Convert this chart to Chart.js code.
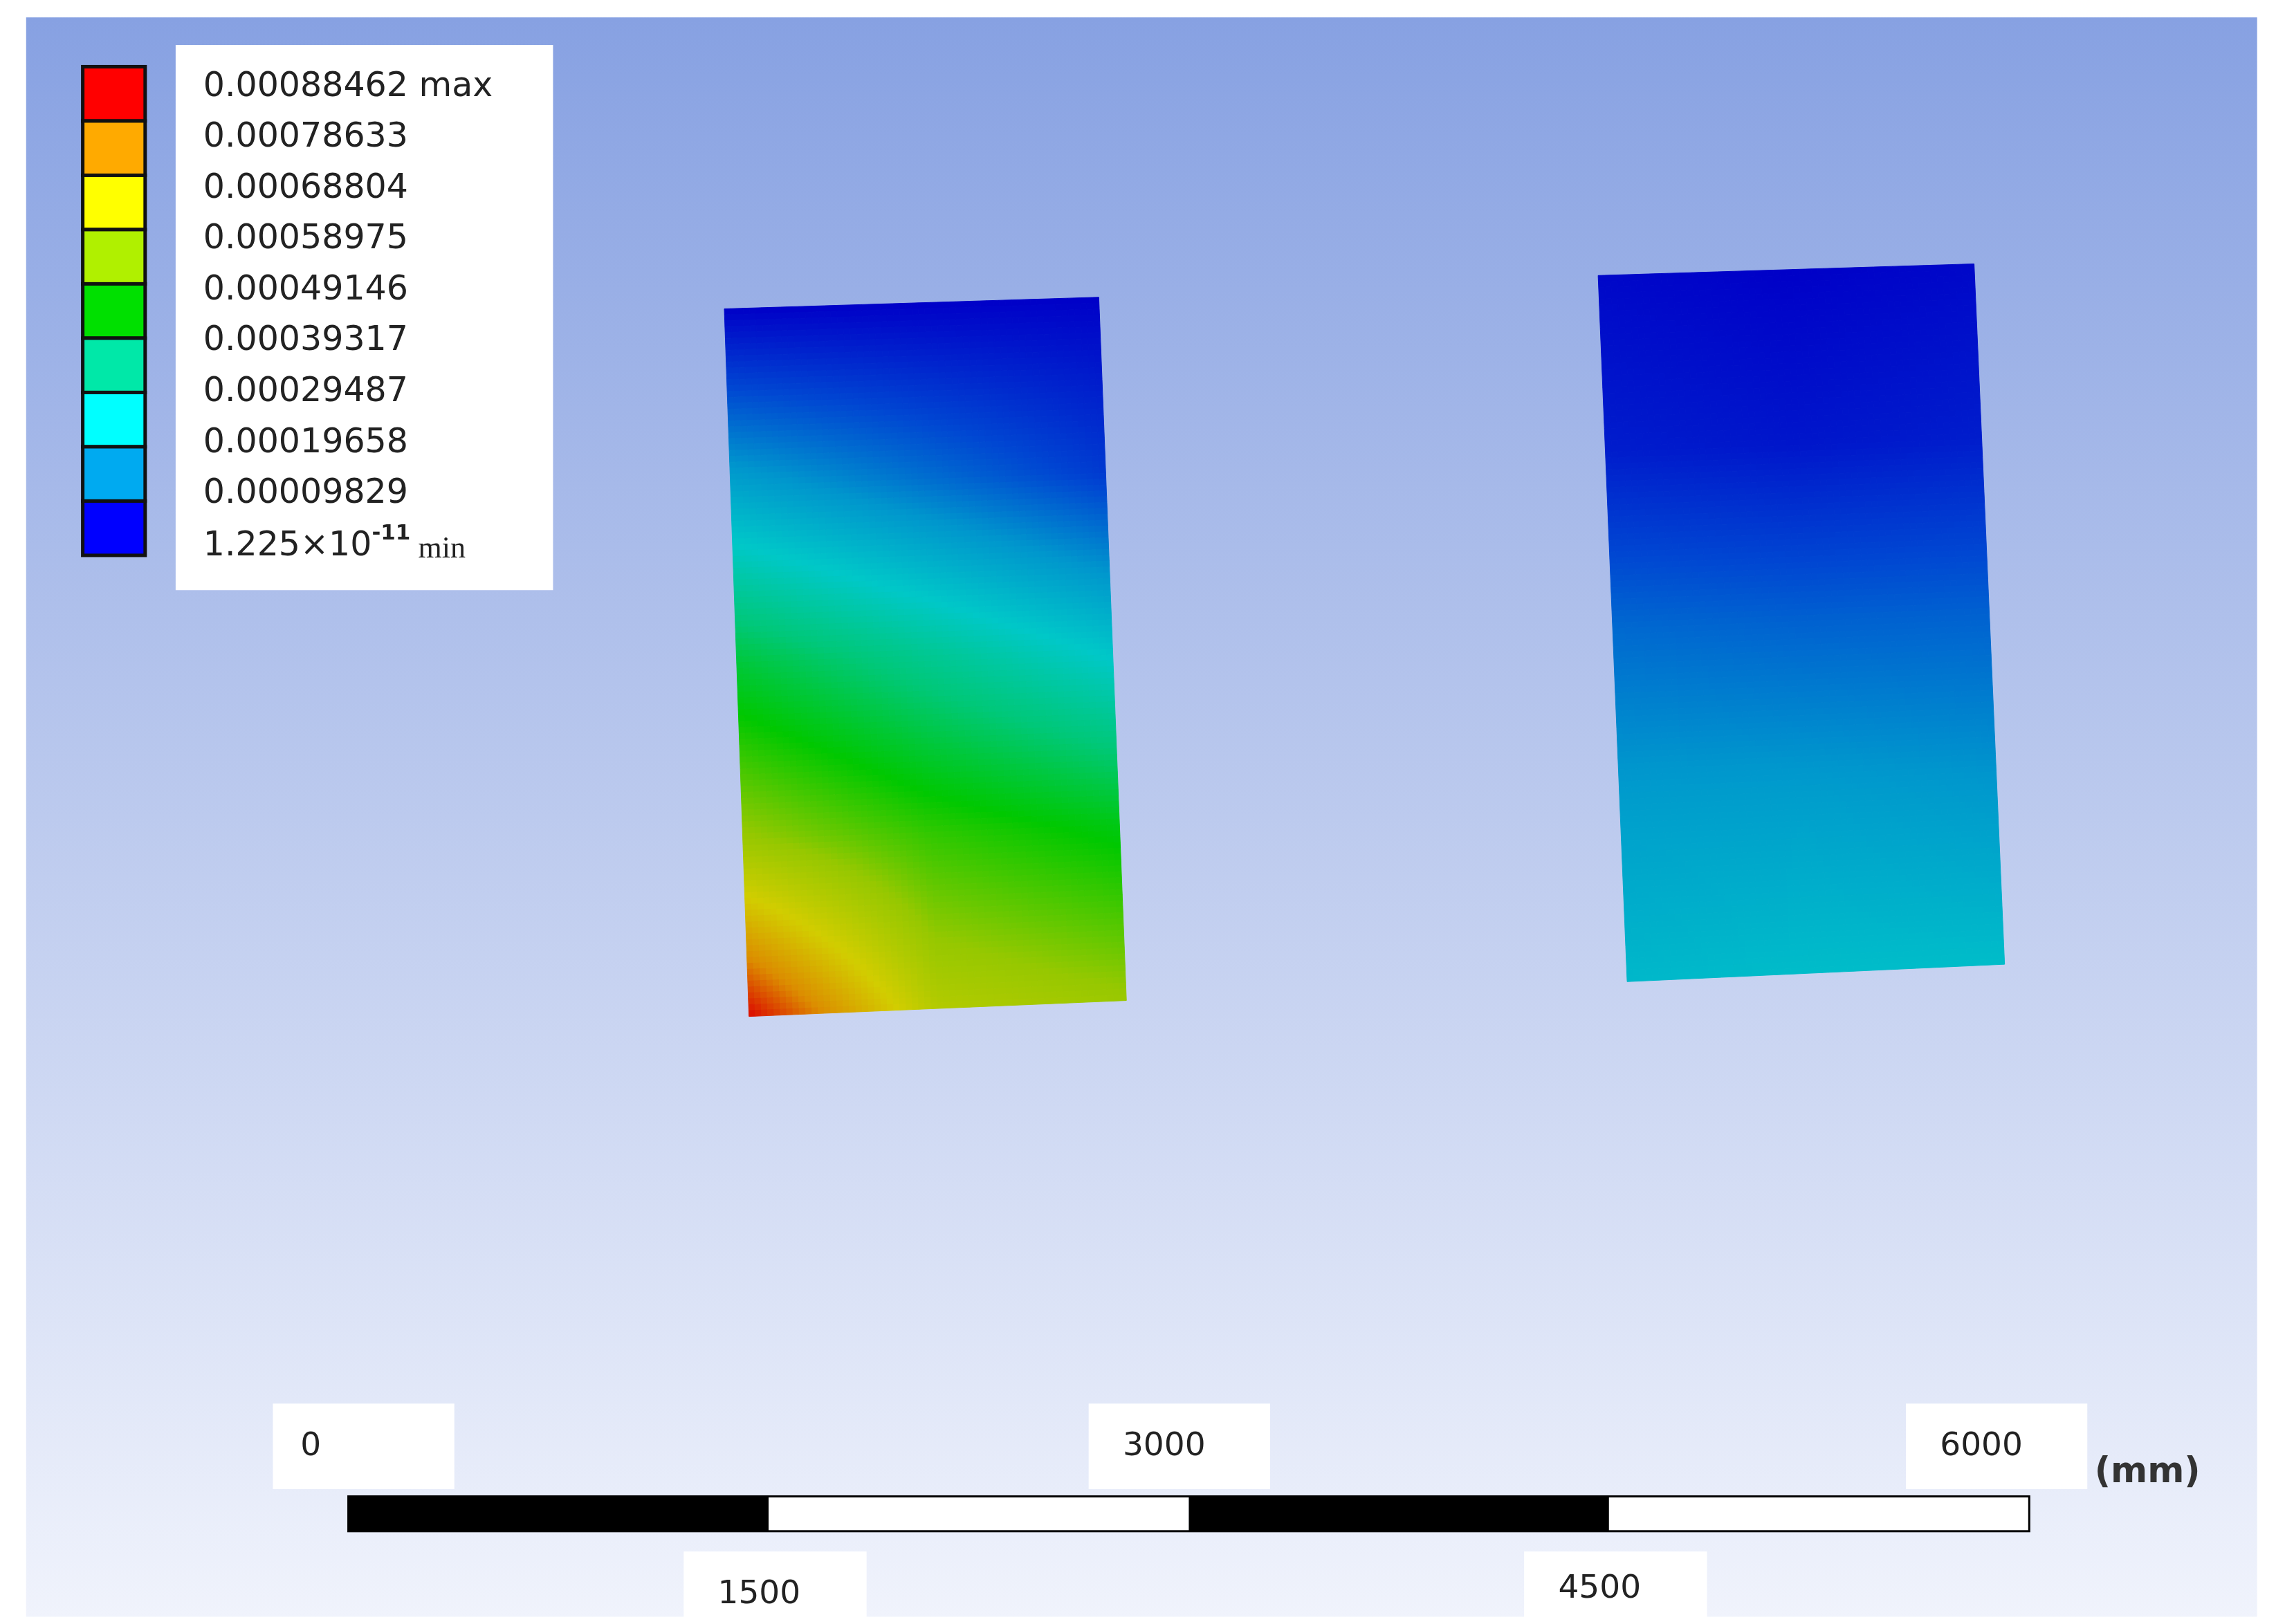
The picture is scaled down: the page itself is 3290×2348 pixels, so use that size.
<!DOCTYPE html>
<html><head><meta charset="utf-8">
<script src="https://cdn.jsdelivr.net/npm/chart.js@4"></script>
<style>html,body{margin:0;padding:0;background:#fff}#wrap{width:3290px;height:2348px}</style>
</head><body><div id="wrap"><canvas id="c" width="3290" height="2348"></canvas></div>
<script>
// Legend values (top = max)
const legendLabels = ["0.00088462 max","0.00078633","0.00068804","0.00058975","0.00049146","0.00039317","0.00029487","0.00019658","0.00009829"];
const legendMin = "1.225×10";
const legendColors = ["#ff0000","#ffaa00","#ffff00","#b0f000","#00e000","#00e8a8","#00ffff","#00aaf0","#0000ff"];
const vMax = 0.00088462;
// Scale-bar tick labels (mm)
const scaleTicksTop = [0, 3000, 6000];
const scaleTicksBottom = [1500, 4500];
// Panel corner coordinates (image units) TL, TR, BR, BL
const panelLeftCorners = [[499,213],[757,205],[776,690],[516,701]];
const panelRightCorners = [[1101,190],[1360,182],[1381,665],[1121,677]];
// Deformation field at nodes (rows top->bottom, cols left->right)
const panelLeftField = [
 [0.00000,0.00000,0.00000],
 [0.00022,0.00015,0.00008],
 [0.00044,0.00036,0.00028],
 [0.00060,0.00052,0.00047],
 [0.00088,0.00064,0.00060]];
const panelRightField = [
 [0.00001,0.00000,0.00001],
 [0.00004,0.00003,0.00004],
 [0.00014,0.00013,0.00013],
 [0.00021,0.00021,0.00020],
 [0.00026,0.00027,0.00027]];

const S = 3290/1568;
const stops = [[0,[0,0,200]],[0.11,[0,70,210]],[0.22,[0,150,205]],[0.33,[0,200,200]],[0.44,[0,200,120]],[0.55,[0,200,0]],[0.67,[150,200,0]],[0.78,[210,205,0]],[0.89,[220,140,0]],[1,[220,0,0]]];
function cmap(v){let t=Math.max(0,Math.min(1,v/vMax));for(let i=1;i<stops.length;i++){if(t<=stops[i][0]){const a=stops[i-1],b=stops[i];const f=(t-a[0])/(b[0]-a[0]);return a[1].map((c,k)=>Math.round(c+(b[1][k]-c)*f));}}return stops[stops.length-1][1];}
function field(F,u,v){const R=F.length-1,C=F[0].length-1;let r=Math.min(R-1,Math.floor(v*R)),c=Math.min(C-1,Math.floor(u*C));const fv=v*R-r,fu=u*C-c;return F[r][c]*(1-fu)*(1-fv)+F[r][c+1]*fu*(1-fv)+F[r+1][c]*(1-fu)*fv+F[r+1][c+1]*fu*fv;}

const plugin={id:'fea',
 beforeDatasetsDraw(ch){
  const ctx=ch.ctx,X=ch.scales.x,Y=ch.scales.y;
  const px=x=>X.getPixelForValue(x),py=y=>Y.getPixelForValue(y);
  ctx.save();ctx.fillStyle='#fff';ctx.fillRect(0,0,ch.width,ch.height);
  const g=ctx.createLinearGradient(0,py(12),0,py(1115));g.addColorStop(0,'#87a1e2');g.addColorStop(0.5,'#bccaee');g.addColorStop(1,'#f0f3fc');
  ctx.fillStyle=g;ctx.fillRect(px(18),py(12),px(1555)-px(18),py(1115)-py(12));
  function drawPanel(P,F){const N=60,M=120;
   const pt=(u,v)=>{const x=(P[0][0]*(1-u)+P[1][0]*u)*(1-v)+(P[3][0]*(1-u)+P[2][0]*u)*v;const y=(P[0][1]*(1-u)+P[1][1]*u)*(1-v)+(P[3][1]*(1-u)+P[2][1]*u)*v;return [px(x),py(y)];};
   for(let i=0;i<N;i++)for(let j=0;j<M;j++){const u0=i/N,u1=(i+1)/N,v0=j/M,v1=(j+1)/M;const c=cmap(field(F,(u0+u1)/2,(v0+v1)/2));
    ctx.fillStyle=`rgb(${c[0]},${c[1]},${c[2]})`;ctx.strokeStyle=ctx.fillStyle;ctx.lineWidth=1;
    ctx.beginPath();let a=pt(u0,v0),b=pt(u1,v0),d=pt(u1,v1),e=pt(u0,v1);ctx.moveTo(...a);ctx.lineTo(...b);ctx.lineTo(...d);ctx.lineTo(...e);ctx.closePath();ctx.fill();ctx.stroke();}}
  drawPanel(panelLeftCorners,panelLeftField);drawPanel(panelRightCorners,panelRightField);
  const lx0=px(57),lx1=px(100),ly0=py(46),ly1=py(383),h=(ly1-ly0)/legendColors.length;
  legendColors.forEach((c,i)=>{ctx.fillStyle=c;ctx.fillRect(lx0,ly0+i*h,lx1-lx0,h);ctx.strokeStyle='#111';ctx.lineWidth=5;ctx.strokeRect(lx0,ly0+i*h,lx1-lx0,h);});
  ctx.fillStyle='#fff';ctx.fillRect(px(121),py(31),px(381)-px(121),py(407)-py(31));
  ctx.fillStyle='#222';ctx.font=`${Math.round(23.2*S)}px "DejaVu Sans"`;ctx.textBaseline='middle';
  legendLabels.forEach((t,i)=>ctx.fillText(t,px(140),py(60+i*35.1)));
  ctx.fillText(legendMin,px(140),py(377));
  let w=ctx.measureText(legendMin).width;
  ctx.font=`bold ${Math.round(15*S)}px "DejaVu Sans"`;ctx.fillText("-11",px(140)+w,py(368));
  let w2=ctx.measureText("-11").width;
  ctx.font=`${Math.round(21*S)}px "Liberation Serif"`;ctx.fillText(" min",px(140)+w+w2,py(379));
  const sx=v=>px(240+v*(1158/6000));
  for(let k=0;k<4;k++){ctx.fillStyle=k%2?'#fff':'#000';ctx.fillRect(sx(k*1500),py(1032),sx(1500)-sx(0),py(1056)-py(1032));}
  ctx.strokeStyle='#000';ctx.lineWidth=3;ctx.strokeRect(sx(0),py(1032),sx(6000)-sx(0),py(1056)-py(1032));
  ctx.font=`${Math.round(22.5*S)}px "DejaVu Sans"`;
  scaleTicksTop.forEach(v=>{const c=[188,750,1313][v/3000];ctx.fillStyle='#fff';ctx.fillRect(px(c),py(968),px(125)-px(0),py(1027)-py(968));ctx.fillStyle='#222';ctx.textAlign=v===0?'left':'center';ctx.fillText(String(v),v===0?px(207):px(c+52),py(998));});
  scaleTicksBottom.forEach(v=>{const c=v===1500?471:1050;ctx.fillStyle='#fff';ctx.fillRect(px(c),py(1070),px(126)-px(0),py(1118)-py(1070));ctx.fillStyle='#222';ctx.textAlign='center';ctx.fillText(String(v),px(c+52),py(v===1500?1100:1096));});
  ctx.font=`bold ${Math.round(24.5*S)}px "DejaVu Sans"`;ctx.textAlign='left';ctx.fillStyle='#333';ctx.fillText("(mm)",px(1443),py(1016));
  ctx.restore();
 }};

new Chart(document.getElementById('c'),{type:'scatter',
 data:{datasets:[{data:panelLeftCorners.concat(panelRightCorners).map(p=>({x:p[0],y:p[1]})),pointRadius:0}]},
 options:{responsive:false,animation:false,devicePixelRatio:1,layout:{padding:0},
  plugins:{legend:{display:false},tooltip:{enabled:false}},
  scales:{x:{type:'linear',min:0,max:1568,display:false},y:{type:'linear',min:0,max:1120,reverse:true,display:false}}},
 plugins:[plugin]});
</script></body></html>
